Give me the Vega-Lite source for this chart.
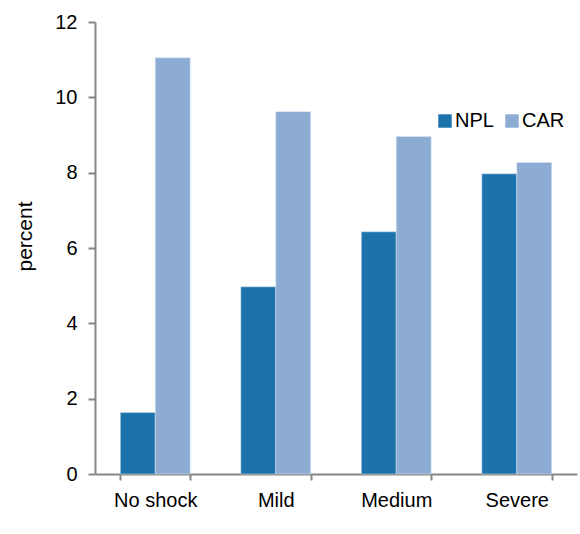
{
  "$schema": "https://vega.github.io/schema/vega-lite/v6.json",
  "autosize": {"type": "none"},
  "width": 482,
  "height": 452,
  "padding": {"left": 95, "top": 22, "right": 3, "bottom": 60},
  "background": "white",
  "data": {
    "values": [
      {"scenario": "No shock", "series": "NPL", "value": 1.63},
      {"scenario": "No shock", "series": "CAR", "value": 11.05},
      {"scenario": "Mild", "series": "NPL", "value": 4.97},
      {"scenario": "Mild", "series": "CAR", "value": 9.62},
      {"scenario": "Medium", "series": "NPL", "value": 6.43},
      {"scenario": "Medium", "series": "CAR", "value": 8.96},
      {"scenario": "Severe", "series": "NPL", "value": 7.97},
      {"scenario": "Severe", "series": "CAR", "value": 8.27}
    ]
  },
  "mark": {"type": "bar", "stroke": "#dbe6f2", "strokeWidth": 0.5},
  "encoding": {
    "x": {
      "field": "scenario",
      "type": "nominal",
      "sort": ["No shock", "Mild", "Medium", "Severe"],
      "scale": {"paddingInner": 0.42, "paddingOuter": 0.21},
      "axis": {
        "title": null,
        "labelAngle": 0,
        "labelFontSize": 20,
        "labelFont": "Liberation Sans",
        "labelColor": "#000000",
        "labelPadding": 10,
        "domainColor": "#868686",
        "domainWidth": 2,
        "tickColor": "#868686",
        "tickWidth": 2,
        "tickSize": 6,
        "tickBand": "extent"
      }
    },
    "xOffset": {"field": "series", "type": "nominal", "sort": ["NPL", "CAR"]},
    "y": {
      "field": "value",
      "type": "quantitative",
      "scale": {"domain": [0, 12], "nice": false},
      "axis": {
        "title": "percent",
        "titleFont": "Liberation Sans",
        "titleFontSize": 21,
        "titleFontWeight": "normal",
        "titleColor": "#000000",
        "titleX": -60,
        "titleY": 214,
        "titleBaseline": "bottom",
        "values": [0, 2, 4, 6, 8, 10, 12],
        "grid": false,
        "labelFontSize": 20,
        "labelFont": "Liberation Sans",
        "labelColor": "#000000",
        "labelPadding": 11,
        "domainColor": "#868686",
        "domainWidth": 2,
        "tickColor": "#868686",
        "tickWidth": 2,
        "tickSize": 7
      }
    },
    "color": {
      "field": "series",
      "type": "nominal",
      "sort": ["NPL", "CAR"],
      "scale": {"domain": ["NPL", "CAR"], "range": ["#1c72aa", "#8cacd3"]},
      "legend": {
        "title": null,
        "orient": "none",
        "legendX": 340,
        "legendY": 89,
        "direction": "horizontal",
        "symbolType": "square",
        "symbolSize": 180,
        "symbolStrokeWidth": 0,
        "labelFontSize": 20,
        "labelFont": "Liberation Sans",
        "labelColor": "#000000",
        "labelOffset": 0,
        "columnPadding": 8
      }
    }
  },
  "config": {"view": {"stroke": null}}
}
